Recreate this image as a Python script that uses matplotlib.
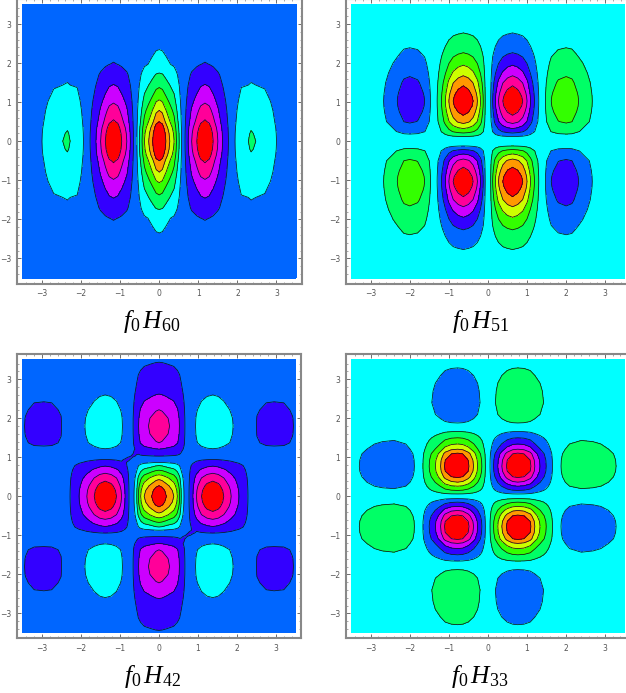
import numpy as np
import matplotlib
matplotlib.use("Agg")
import matplotlib.pyplot as plt

plt.rcParams['mathtext.fontset'] = 'custom'
plt.rcParams['mathtext.rm'] = 'Liberation Serif'
plt.rcParams['mathtext.it'] = 'Liberation Serif:italic'

# Band colours, from the lowest contour band to the highest
band_colors = ['#ff0000', '#ff0099', '#cc00ff', '#3300ff', '#0066ff', '#00ffff',
               '#00ff66', '#33ff00', '#ccff00', '#ff9900', '#ff0000']
contour_levels = [0.5, 1.5, 2.5, 3.5, 4.5, 5.5, 6.5, 7.5, 8.5, 9.5]
ticks = [-3, -2, -1, 0, 1, 2, 3]

# f0 H60: profiles
h60_base = 4.0
h60_x = [0, .08, .17, .27, .38, .44, .51, .57, .66, .74, .83, .96, 1.06, 1.17, 1.28, 1.38, 1.5, 1.62,
         1.77, 1.94, 2.1, 2.28, 2.35, 2.47, 2.7, 2.85, 3.0, 3.25, 3.5]
h60_xv = [7, 6.65, 5.5, 4.5, 3.5, 2.5, 1.5, .5, -.5, -1.5, -2.5, -3.5, -4.3, -4.6, -4.3, -3.5, -2.5, -1.5,
          -.5, .5, 1.4, 1.5, 1.62, 1.5, 1.35, .95, .5, .15, 0]
h60_y = [0, .2, .35, .5, .79, 1.04, 1.34, 1.7, 1.97, 2.35, 3.0, 3.5]
h60_yv = [1, .96, .89, .786, .643, .51, .37, .235, .115, .071, .01, 0]

# f0 H51
h51_base = 5.0
h51_x = [0, .07, .12, .19, .27, .38, .5, .63, .76, .89, 1.0, 1.09, 1.19, 1.3, 1.47, 1.62, 1.8, 2.0,
         2.15, 2.32, 2.67, 3.0, 3.5]
h51_xv = [0, -.5, -1.5, -2.5, -3.5, -4.5, -5.15, -5.5, -5.15, -4.5, -3.5, -2.5, -1.5, -.5, .5, 1.5, 2.1, 2.3,
          2.15, 1.5, .5, .15, 0]
h51_y = [0, .12, .25, .5, .75, .9, 1.03, 1.15, 1.25, 1.5, 1.75, 2.0, 2.25, 2.5, 2.75, 3.0, 3.5]
h51_yv = [0, .09, .35, .70, .88, .97, 1, .97, .92, .77, .58, .42, .28, .17, .095, .05, 0]

# f0 H42
h42_base = 3.7
h42_x = [0, .08, .19, .33, .38, .47, .53, .57, .64, .7, .77, .87, .96, 1.09, 1.23, 1.38, 1.52, 1.66,
         1.85, 2.05, 2.28, 2.38, 2.51, 2.75, 2.95, 3.2, 3.42, 3.5]
h42_xv = [6.6, 6.4, 5.8, 5.05, 4.8, 3.8, 2.8, 1.8, .8, 0, -.2, -1.2, -2.2, -3.2, -3.9, -4.2, -3.9, -3.2,
          -2.2, -1.2, -.2, 0, .53, .75, .78, .75, .53, .4]
h42_y = [0, .15, .27, .38, .47, .57, .68, .74, .79, .87, .94, 1.0, 1.03, 1.1, 1.21, 1.37, 1.6, 1.8, 2.0, 2.22,
         2.62, 3.0, 3.25, 3.44, 3.5]
h42_yv = [1, .96, .88, .77, .69, .55, .41, .32, .27, .12, .05, 0, -.03, -.09, -.182, -.333, -.395, -.41, -.395, -.333,
          -.182, -.09, -.05, -.03, -.025]
# Thin diagonal links between neighbouring lobes: x, y, value
h42_links = [(-.87, .87, 3.4), (-.87, .94, 3.4), (-.77, .94, 3.4), (-.77, 1.0, 3.4), (-.7, 1.0, 3.4),
             (-.7, 1.03, 3.4), (-.64, 1.03, 3.4), (-.64, 1.1, 3.4), (-.57, 1.1, 3.4),
             (.87, -.87, 3.4), (.87, -.94, 3.4), (.77, -.94, 3.4), (.77, -1.0, 3.4), (.7, -1.0, 3.4),
             (.7, -1.03, 3.4), (.64, -1.03, 3.4), (.64, -1.1, 3.4), (.57, -1.1, 3.4)]

# f0 H33
h33_base = 5.0
h33_peak = 5.7
h33_p = [0, .06, .15, .26, .36, .5, .64, .77, .93, 1.09, 1.21, 1.34, 1.5, 1.66, 1.76, 1.88, 2.1, 2.4, 2.7, 2.9, 3.29, 3.5]
h33_pv = [0, .088, .263, .44, .61, .82, .96, 1, .96, .82, .61, .44, .263, .088, 0, -.088, -.2, -.26, -.235, -.2, -.088, -.04]


def mirror(nodes, values, parity):
    n = np.asarray(nodes, float)
    v = np.asarray(values, float)
    return np.r_[-n[:0:-1], n], np.r_[parity * v[:0:-1], v]


def field(xn, xv, yn, yv, px, py):
    xs, xp = mirror(xn, xv, px)
    ys, yp = mirror(yn, yv, py)
    return xs, ys, np.outer(yp, xp)


x60, y60, z60 = field(h60_x, h60_xv, h60_y, h60_yv, 1, 1)
z60 = z60 + h60_base
x51, y51, z51 = field(h51_x, h51_xv, h51_y, h51_yv, -1, -1)
z51 = z51 + h51_base
x33, y33, z33 = field(h33_p, h33_pv, h33_p, h33_pv, -1, -1)
z33 = h33_base - h33_peak * z33
x42, y42, z42 = field(h42_x, h42_xv, h42_y, h42_yv, 1, 1)
z42 = h42_base + z42
for lx, ly, lv in h42_links:
    z42[np.argmin(abs(y42 - ly)), np.argmin(abs(x42 - lx))] = lv

W, H = 626, 693
fig = plt.figure(figsize=(W / 100, H / 100), dpi=100, facecolor='white')

panels = [
    (17.0, -1.0, 284.5, x60, y60, z60, r'$f_0\,H_{60}$', 152),
    (345.7, -1.0, 284.5, x51, y51, z51, r'$f_0\,H_{51}$', 480),
    (17.0, 354.3, 284.0, x42, y42, z42, r'$f_0\,H_{42}$', 152),
    (345.7, 354.3, 284.0, x33, y33, z33, r'$f_0\,H_{33}$', 480),
]
label_y = [328, 328, 683, 683]

for (left, top, size, xs, ys, zs, label, lx), ly in zip(panels, label_y):
    ax = fig.add_axes([left / W, 1 - (top + size) / H, size / W, size / H])
    ax.contourf(xs, ys, zs, levels=[-100] + contour_levels + [100], colors=band_colors)
    ax.contour(xs, ys, zs, levels=contour_levels, colors='#101020', linewidths=0.55)
    ax.set_xlim(-3.64, 3.64)
    ax.set_ylim(-3.64, 3.64)
    ax.set_xticks(ticks)
    ax.set_yticks(ticks)
    ax.set_xticks(np.arange(-3.4, 3.5, 0.2), minor=True)
    ax.set_yticks(np.arange(-3.4, 3.5, 0.2), minor=True)
    ax.tick_params(which='major', direction='in', length=3, width=0.6, color='#555555',
                   labelsize=5.5, labelcolor='#555555', pad=4, top=True, right=True)
    ax.tick_params(which='minor', direction='in', length=1.5, width=0.4, color='#666666',
                   top=True, right=True)
    for s in ax.spines.values():
        s.set_color('#888888')
        s.set_linewidth(1.5)
    fig.text(lx / W, 1 - ly / H, label, fontsize=18.4, ha='center', va='baseline', color='black')

fig.savefig('out.png', dpi=100, facecolor='white')
